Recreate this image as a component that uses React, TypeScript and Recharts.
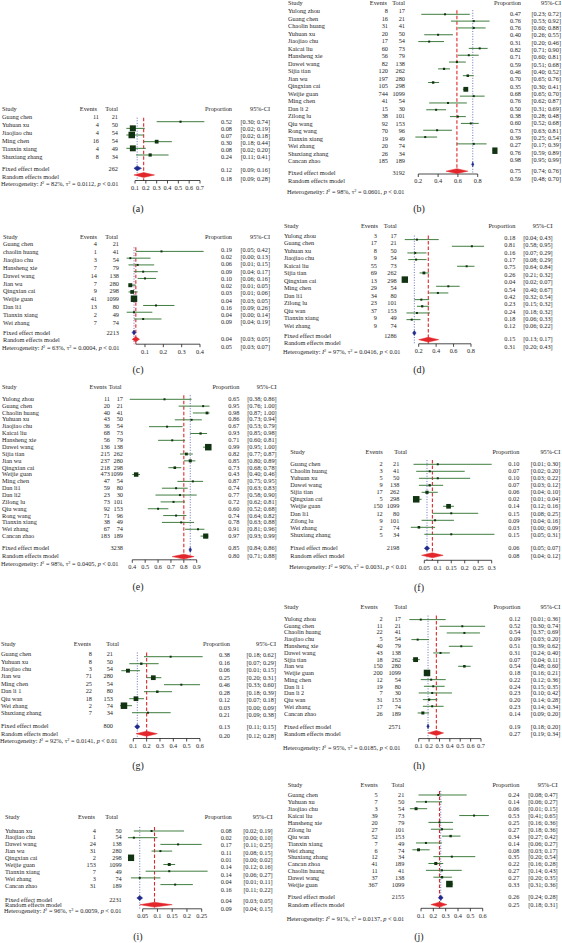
import React from "react";
import {
  ScatterChart,
  Scatter,
  XAxis,
  YAxis,
  ErrorBar,
  ReferenceLine,
} from "recharts";

const FONT = '"Liberation Serif", "DejaVu Serif", serif';
const FS = 6.3;
const INK = "#1e1e1e";
const CI_GREEN = "#3f7d3f";
const BOX = "#113311";
const RED = "#e3262b";
const NAVY = "#1f2a8c";
const DOT_BLUE = "#5a62b8";
const PANEL_W = 281;

// ── (a) ────────────────────────────────────────────────────────────────
const aStudies = ["Guang chen", "Yuhuan xu", "Jiaojiao chu", "Ming chen", "Tianxin xiang", "Shuxiang zhang"];
const aEvents = [11, 4, 4, 16, 4, 8];
const aTotals = [21, 50, 54, 54, 49, 34];
const aProp = [0.52, 0.08, 0.07, 0.3, 0.08, 0.24];
const aLower = [0.3, 0.02, 0.02, 0.18, 0.02, 0.11];
const aUpper = [0.74, 0.19, 0.18, 0.44, 0.2, 0.41];
const aFixed = [0.12, 0.09, 0.16];
const aRandom = [0.18, 0.09, 0.28];
const aHet = ["82%", "0.0112"];
const aTicks = [0.1, 0.2, 0.3, 0.4, 0.5, 0.6, 0.7];

// ── (b) ────────────────────────────────────────────────────────────────
const bStudies = ["Yulong zhou", "Guang chen", "Chaolin huang", "Yuhuan xu", "Jiaojiao chu", "Kaicai liu", "Hansheng xie", "Dawei wang", "Sijia tian", "Jian wu", "Qingxian cai", "Weijie guan", "Ming chen", "Dan li 2", "Zilong lu", "Qiu wang", "Rong wang", "Tianxin xiang", "Wei zhang", "Shuxiang zhang", "Cancan zhao"];
const bEvents = [8, 16, 31, 20, 17, 60, 56, 82, 120, 197, 105, 744, 41, 15, 38, 92, 70, 19, 20, 26, 185];
const bTotals = [17, 21, 41, 50, 54, 73, 79, 138, 262, 280, 298, 1099, 54, 30, 101, 153, 96, 49, 74, 34, 189];
const bProp = [0.47, 0.76, 0.76, 0.4, 0.31, 0.82, 0.71, 0.59, 0.46, 0.7, 0.35, 0.68, 0.76, 0.5, 0.38, 0.6, 0.73, 0.39, 0.27, 0.76, 0.98];
const bLower = [0.23, 0.53, 0.6, 0.26, 0.2, 0.71, 0.6, 0.51, 0.4, 0.65, 0.3, 0.65, 0.62, 0.31, 0.28, 0.52, 0.63, 0.25, 0.17, 0.59, 0.95];
const bUpper = [0.72, 0.92, 0.88, 0.55, 0.46, 0.9, 0.81, 0.68, 0.52, 0.76, 0.41, 0.7, 0.87, 0.69, 0.48, 0.68, 0.81, 0.54, 0.39, 0.89, 0.99];
const bFixed = [0.75, 0.74, 0.76];
const bRandom = [0.59, 0.48, 0.7];
const bHet = ["98%", "0.0601"];
const bTicks = [0.2, 0.4, 0.6, 0.8];

// ── (c) ────────────────────────────────────────────────────────────────
const cStudies = ["Guang chen", "chaolin huang", "Jiaojiao chu", "Hansheng xie", "Dawei wang", "Jian wu", "Qingxian cai", "Weijie guan", "Dan li1", "Tianxin xiang", "Wei zhang"];
const cEvents = [4, 1, 3, 7, 14, 7, 9, 41, 13, 2, 7];
const cTotals = [21, 41, 54, 79, 138, 280, 298, 1099, 80, 49, 74];
const cProp = [0.19, 0.02, 0.06, 0.09, 0.1, 0.02, 0.03, 0.04, 0.16, 0.04, 0.09];
const cLower = [0.05, 0.0, 0.01, 0.04, 0.06, 0.01, 0.01, 0.03, 0.09, 0.0, 0.04];
const cUpper = [0.42, 0.13, 0.15, 0.17, 0.16, 0.05, 0.06, 0.05, 0.26, 0.14, 0.19];
const cFixed = [0.04, 0.03, 0.05];
const cRandom = [0.05, 0.03, 0.07];
const cHet = ["63%", "0.0004"];
const cTicks = [0.1, 0.2, 0.3, 0.4];

// ── (d) ────────────────────────────────────────────────────────────────
const dStudies = ["Yulong zhou", "Guang chen", "Yuhuan xu", "Jiaojiao chu", "Kaicai liu", "Sijia tian", "Qingxian cai", "Ming chen", "Dan li1", "Zilong lu", "Qiu wan", "Tianxin xiang", "Wei zhang"];
const dEvents = [3, 17, 8, 9, 55, 69, 13, 29, 34, 23, 37, 9, 9];
const dTotals = [17, 21, 50, 54, 73, 262, 298, 54, 80, 101, 153, 49, 74];
const dProp = [0.18, 0.81, 0.16, 0.17, 0.75, 0.26, 0.04, 0.54, 0.42, 0.23, 0.24, 0.18, 0.12];
const dLower = [0.04, 0.58, 0.07, 0.08, 0.64, 0.21, 0.02, 0.4, 0.32, 0.15, 0.18, 0.06, 0.06];
const dUpper = [0.43, 0.95, 0.29, 0.29, 0.84, 0.32, 0.07, 0.67, 0.54, 0.32, 0.32, 0.33, 0.22];
const dFixed = [0.15, 0.13, 0.17];
const dRandom = [0.31, 0.2, 0.43];
const dHet = ["97%", "0.0416"];
const dTicks = [0.2, 0.4, 0.6, 0.8];

// ── (e) ────────────────────────────────────────────────────────────────
const eStudies = ["Yulong zhou", "Guang chen", "Chaolin huang", "Yuhuan xu", "Jiaojiao chu", "Kaicai liu", "Hansheng xie", "Dawei wang", "Sijia tian", "Jian wu", "Qingxian cai", "Weijie guan", "Ming chen", "Dan li1", "Dan li2", "Zilong lu", "Qiu wang", "Rong wang", "Tianxin xiang", "Wei zhang", "Cancan zhao"];
const eEvents = [11, 20, 40, 43, 36, 68, 56, 136, 215, 237, 218, 473, 47, 59, 23, 73, 92, 71, 38, 67, 183];
const eTotals = [17, 21, 41, 50, 54, 73, 79, 138, 262, 280, 298, 1099, 54, 80, 30, 101, 153, 96, 49, 74, 189];
const eProp = [0.65, 0.95, 0.98, 0.86, 0.67, 0.93, 0.71, 0.99, 0.82, 0.85, 0.73, 0.43, 0.87, 0.74, 0.77, 0.72, 0.6, 0.74, 0.78, 0.91, 0.97];
const eLower = [0.38, 0.76, 0.87, 0.73, 0.53, 0.85, 0.6, 0.95, 0.77, 0.8, 0.68, 0.4, 0.75, 0.63, 0.58, 0.62, 0.52, 0.64, 0.63, 0.81, 0.93];
const eUpper = [0.86, 1.0, 1.0, 0.94, 0.79, 0.98, 0.81, 1.0, 0.87, 0.89, 0.78, 0.46, 0.95, 0.83, 0.9, 0.81, 0.68, 0.82, 0.88, 0.96, 0.99];
const eFixed = [0.85, 0.84, 0.86];
const eRandom = [0.8, 0.71, 0.88];
const eHet = ["98%", "0.0405"];
const eTicks = [0.4, 0.5, 0.6, 0.7, 0.8, 0.9];

// ── (f) ────────────────────────────────────────────────────────────────
const fStudies = ["Guang chen", "Chaolin huang", "Yuhuan xu", "Dawei wang", "Sijia tian", "Qingxian cai", "Weijie guan", "Dan li1", "Zilong lu", "Wei zhang", "Shuxiang zhang"];
const fEvents = [2, 3, 5, 9, 17, 5, 150, 12, 9, 2, 5];
const fTotals = [21, 41, 50, 138, 262, 298, 1099, 80, 101, 74, 34];
const fProp = [0.1, 0.07, 0.1, 0.07, 0.06, 0.02, 0.14, 0.15, 0.09, 0.03, 0.15];
const fLower = [0.01, 0.02, 0.03, 0.03, 0.04, 0.01, 0.12, 0.08, 0.04, 0.0, 0.05];
const fUpper = [0.3, 0.2, 0.22, 0.12, 0.1, 0.04, 0.16, 0.25, 0.16, 0.09, 0.31];
const fFixed = [0.06, 0.05, 0.07];
const fRandom = [0.08, 0.04, 0.12];
const fHet = ["90%", "0.0031"];
const fTicks = [0.05, 0.1, 0.15, 0.2, 0.25, 0.3];

// ── (g) ────────────────────────────────────────────────────────────────
const gStudies = ["Guang chen", "Yuhuan xu", "Jiaojiao chu", "Jian wu", "Ming chen", "Dan li 1", "Qiu wan", "Wei zhang", "Shuxiang zhang"];
const gEvents = [8, 8, 3, 71, 25, 22, 18, 2, 7];
const gTotals = [21, 50, 54, 280, 54, 80, 153, 74, 34];
const gProp = [0.38, 0.16, 0.06, 0.25, 0.46, 0.28, 0.12, 0.03, 0.21];
const gLower = [0.18, 0.07, 0.01, 0.2, 0.33, 0.18, 0.07, 0.0, 0.09];
const gUpper = [0.62, 0.29, 0.15, 0.31, 0.6, 0.39, 0.18, 0.09, 0.38];
const gFixed = [0.13, 0.11, 0.15];
const gRandom = [0.2, 0.12, 0.28];
const gHet = ["92%", "0.0141"];
const gTicks = [0.1, 0.2, 0.3, 0.4, 0.5, 0.6];

// ── (h) ────────────────────────────────────────────────────────────────
const hStudies = ["Yulong zhou", "Guang chen", "Chaolin huang", "Jiaojiao chu", "Hansheng xie", "Dawei wang", "Sijia tian", "Jian wu", "Weijie guan", "Ming chen", "Dan li 1", "Dan li 2", "Qiu wan", "Wei zhang", "Cancan zhao"];
const hEvents = [2, 11, 22, 5, 40, 43, 18, 150, 200, 12, 19, 7, 31, 17, 26];
const hTotals = [17, 21, 41, 54, 79, 138, 262, 280, 1099, 54, 80, 30, 153, 74, 189];
const hProp = [0.12, 0.52, 0.54, 0.09, 0.51, 0.31, 0.07, 0.54, 0.18, 0.22, 0.24, 0.23, 0.2, 0.23, 0.14];
const hLower = [0.01, 0.3, 0.37, 0.03, 0.39, 0.24, 0.04, 0.48, 0.16, 0.12, 0.15, 0.1, 0.14, 0.14, 0.09];
const hUpper = [0.36, 0.74, 0.69, 0.2, 0.62, 0.4, 0.11, 0.6, 0.21, 0.36, 0.35, 0.42, 0.28, 0.34, 0.2];
const hFixed = [0.19, 0.18, 0.2];
const hRandom = [0.27, 0.19, 0.34];
const hHet = ["95%", "0.0185"];
const hTicks = [0.1, 0.2, 0.3, 0.4, 0.5, 0.6, 0.7];

// ── (i) ────────────────────────────────────────────────────────────────
const iStudies = ["Yuhuan xu", "Jiaojiao chu", "Dawei wang", "Jian wu", "Qingxian cai", "Weijie guan", "Tianxin xiang", "Wei zhang", "Cancan zhao"];
const iEvents = [4, 1, 24, 31, 2, 153, 7, 3, 31];
const iTotals = [50, 54, 138, 280, 298, 1099, 49, 74, 189];
const iProp = [0.08, 0.02, 0.17, 0.11, 0.01, 0.14, 0.14, 0.04, 0.16];
const iLower = [0.02, 0.0, 0.11, 0.08, 0.0, 0.12, 0.06, 0.01, 0.11];
const iUpper = [0.19, 0.1, 0.25, 0.15, 0.02, 0.16, 0.27, 0.11, 0.22];
const iFixed = [0.04, 0.03, 0.05];
const iRandom = [0.09, 0.04, 0.15];
const iHet = ["96%", "0.0059"];
const iTicks = [0.05, 0.1, 0.15, 0.2, 0.25];

// ── (j) ────────────────────────────────────────────────────────────────
const jStudies = ["Guang chen", "Yuhuan xu", "Jiaojiao chu", "Kaicai liu", "Hansheng xie", "Zilong lu", "Qiu wan", "Tianxin xiang", "Wei zhang", "Shuxiang zhang", "Cancan zhoa", "Chaolin huang", "Dawei wang", "Weijie guan"];
const jEvents = [5, 7, 3, 39, 20, 27, 52, 7, 6, 12, 41, 11, 37, 367];
const jTotals = [21, 50, 54, 73, 79, 101, 153, 49, 74, 34, 189, 41, 138, 1099];
const jProp = [0.24, 0.14, 0.06, 0.53, 0.25, 0.27, 0.34, 0.14, 0.08, 0.35, 0.22, 0.27, 0.27, 0.33];
const jLower = [0.08, 0.06, 0.01, 0.41, 0.16, 0.18, 0.27, 0.06, 0.03, 0.2, 0.16, 0.14, 0.2, 0.31];
const jUpper = [0.47, 0.27, 0.15, 0.65, 0.36, 0.36, 0.42, 0.27, 0.17, 0.54, 0.28, 0.43, 0.35, 0.36];
const jFixed = [0.26, 0.24, 0.28];
const jRandom = [0.25, 0.18, 0.31];
const jHet = ["91%", "0.0137"];
const jTicks = [0.1, 0.2, 0.3, 0.4, 0.5, 0.6];

// ── layout (page pixels) ───────────────────────────────────────────────
// scale: [v1, px1, v2, px2] reference ticks; left/right: [first row y, row step, fixed y, random y]
// plot: [first mark y, row step]; cols: study, events, total, proportion, CI; hcols: header events/total
const LAY_A = { x0: 0, head: 109, scale: [0.1, 135, 0.7, 200], domain: [0, 0.8], axis: [0.1, 0.7], left: [116.7, 8, 168.5, 176.5], right: [121.7, 7, 170, 178.3], plot: [121.7, 6.66], axisY: 180.5, hetY: 183.5, labelY: 209, cols: [2, 99, 118, 232, 270], hcols: [97, 118] };
const LAY_B = { x0: 281, head: 3, scale: [0.2, 137.3, 0.8, 196.7], domain: [0.1, 1.0], axis: [0.2, 0.8], left: [11, 7.5, 172.3, 181], right: [13.3, 7.33, 170.7, 179], plot: [14.3, 6.82], axisY: 174, hetY: 191.7, labelY: 209, cols: [7, 107, 124, 240, 280], hcols: [106, 124] };
const LAY_C = { x0: 0, head: 237.3, scale: [0.1, 145, 0.4, 200], domain: [0, 0.45], axis: [0.05, 0.4], left: [244, 7.93, 333.3, 340], right: [250, 7.23, 339, 347.3], plot: [251.7, 6.76], axisY: 344.5, hetY: 347.3, labelY: 370, cols: [3, 97, 119, 232, 270], hcols: [97, 118] };
const LAY_D = { x0: 281, head: 225.7, scale: [0.2, 137.7, 0.8, 190], domain: [0, 1.0], axis: [0.2, 0.8], left: [235, 7.5, 335, 342.3], right: [237.3, 7.39, 338.3, 346.7], plot: [239.3, 6.67], axisY: 343.5, hetY: 351, labelY: 370, cols: [3, 96, 115.7, 234.3, 271.7], hcols: [97, 115.7] };
const LAY_E = { x0: 0, head: 386.7, scale: [0.4, 132.3, 0.9, 196.7], domain: [0.35, 1.02], axis: [0.4, 0.9], left: [398.3, 6.87, 547.7, 555], right: [398.3, 6.87, 547.7, 555], plot: [399, 6.84], axisY: 559.5, hetY: 563.3, labelY: 586.7, cols: [2, 110, 123, 239.3, 276.7], hcols: [106.7, 121.5] };
const LAY_F = { x0: 281, head: 451.7, scale: [0.05, 143.3, 0.3, 210.7], domain: [0, 0.32], axis: [0.05, 0.3], left: [463.3, 7.1, 547.3, 555.7], right: [463.3, 7.1, 547.3, 555.7], plot: [464, 7.0], axisY: 560, hetY: 566, labelY: 588.3, cols: [9.3, 101.7, 118.3, 238.3, 279.3], hcols: [101.7, 126], randomLabel: "Random effect model" };
const LAY_G = { x0: 0, head: 644, scale: [0.1, 133.3, 0.6, 200], domain: [0, 0.65], axis: [0.1, 0.6], left: [654, 7.41, 726, 733.3], right: [655, 7.5, 726.7, 736], plot: [656.7, 7.0], axisY: 738.5, hetY: 740, labelY: 766, cols: [1, 92, 113, 230, 276], hcols: [91, 119] };
const LAY_H = { x0: 281, head: 606.7, scale: [0.1, 137.7, 0.7, 200], domain: [0, 0.8], axis: [0.1, 0.7], left: [618.3, 6.79, 726.7, 734], right: [618.3, 6.79, 726.7, 734], plot: [619.3, 6.67], axisY: 738.3, hetY: 747.3, labelY: 766, cols: [3, 101.7, 120, 239.3, 279.3], hcols: [96.7, 126] };
const LAY_I = { x0: 0, head: 816.7, scale: [0.05, 142.7, 0.25, 201.7], domain: [0, 0.28], axis: [0.05, 0.25], left: [830, 6.96, 899, 904.3], right: [830, 7.375, 900, 908.3], plot: [830.7, 6.7], axisY: 908.5, hetY: 910, labelY: 936.7, cols: [5, 96, 121.7, 231.7, 272.7], hcols: [95, 118] };
const LAY_J = { x0: 281, head: 785, scale: [0.1, 140, 0.6, 201.7], domain: [0, 0.7], axis: [0.1, 0.6], left: [795, 6.92, 896.7, 905], right: [795, 6.92, 896.7, 905], plot: [795, 6.85], axisY: 908.3, hetY: 918.3, labelY: 936.7, cols: [6.7, 96.7, 123.3, 238.3, 276.7], hcols: [96.7, 123.3] };

const PANELS = [
  { label: "(a)", studies: aStudies, events: aEvents, totals: aTotals, prop: aProp, lower: aLower, upper: aUpper, fixed: aFixed, random: aRandom, het: aHet, ticks: aTicks, lay: LAY_A },
  { label: "(b)", studies: bStudies, events: bEvents, totals: bTotals, prop: bProp, lower: bLower, upper: bUpper, fixed: bFixed, random: bRandom, het: bHet, ticks: bTicks, lay: LAY_B },
  { label: "(c)", studies: cStudies, events: cEvents, totals: cTotals, prop: cProp, lower: cLower, upper: cUpper, fixed: cFixed, random: cRandom, het: cHet, ticks: cTicks, lay: LAY_C },
  { label: "(d)", studies: dStudies, events: dEvents, totals: dTotals, prop: dProp, lower: dLower, upper: dUpper, fixed: dFixed, random: dRandom, het: dHet, ticks: dTicks, lay: LAY_D },
  { label: "(e)", studies: eStudies, events: eEvents, totals: eTotals, prop: eProp, lower: eLower, upper: eUpper, fixed: eFixed, random: eRandom, het: eHet, ticks: eTicks, lay: LAY_E },
  { label: "(f)", studies: fStudies, events: fEvents, totals: fTotals, prop: fProp, lower: fLower, upper: fUpper, fixed: fFixed, random: fRandom, het: fHet, ticks: fTicks, lay: LAY_F },
  { label: "(g)", studies: gStudies, events: gEvents, totals: gTotals, prop: gProp, lower: gLower, upper: gUpper, fixed: gFixed, random: gRandom, het: gHet, ticks: gTicks, lay: LAY_G },
  { label: "(h)", studies: hStudies, events: hEvents, totals: hTotals, prop: hProp, lower: hLower, upper: hUpper, fixed: hFixed, random: hRandom, het: hHet, ticks: hTicks, lay: LAY_H },
  { label: "(i)", studies: iStudies, events: iEvents, totals: iTotals, prop: iProp, lower: iLower, upper: iUpper, fixed: iFixed, random: iRandom, het: iHet, ticks: iTicks, lay: LAY_I },
  { label: "(j)", studies: jStudies, events: jEvents, totals: jTotals, prop: jProp, lower: jLower, upper: jUpper, fixed: jFixed, random: jRandom, het: jHet, ticks: jTicks, lay: LAY_J },
];

// ── marks ──────────────────────────────────────────────────────────────

function Square(props: any) {
  const { cx, cy, payload } = props;
  if (cx == null || cy == null) return <g />;
  const s = payload.side;
  return <rect x={cx - s / 2} y={cy - s / 2} width={s} height={s} fill={BOX} />;
}

function NoDot() {
  return <g />;
}

// Scatter "line" renderer that fills the polygon through the diamond's points
const diamondPath = (color: string) => (props: any) => {
  const pts = (props.points || []).filter((q: any) => q.x != null && q.y != null);
  if (!pts.length) return <g />;
  const d = "M" + pts.map((q: any) => `${q.x},${q.y}`).join("L") + "Z";
  return <path d={d} fill={color} stroke={color} strokeWidth={0.5} />;
};

const ci = (lo: number, hi: number) => `[${lo.toFixed(2)}; ${hi.toFixed(2)}]`;

function Sq2({ children }: { children: React.ReactNode }) {
  return <span style={{ fontSize: "0.7em", verticalAlign: "0.5em", lineHeight: 0 }}>{children}</span>;
}

// ── one forest plot ────────────────────────────────────────────────────

function ForestPanel({ label, studies, events, totals, prop, lower, upper, fixed, random, het, ticks, lay }: any) {
  const n = studies.length;
  const [v1, p1, v2, p2] = lay.scale;
  const k = (p2 - p1) / (v2 - v1);
  const plotLeft = p1 - (v1 - lay.domain[0]) * k;
  const plotRight = p1 + (lay.domain[1] - v1) * k;
  const top = lay.head - 6;
  const bottom = lay.axisY;
  const axisH = 14;
  const height = bottom - top + axisH;

  const toRow = (px: number, first: number, step: number) => 1 + (px - first) / step;
  const rowDomain = (first: number, step: number) => [toRow(top, first, step), toRow(bottom, first, step)];

  const [lf, ls, lfx, lrx] = lay.left;
  const [rf, rs, rfx, rrx] = lay.right;
  const [pf, ps] = lay.plot;
  const leftDomain = rowDomain(lf, ls);
  const rightDomain = rowDomain(rf, rs);
  const plotDomain = rowDomain(pf, ps);
  const rows = studies.map((_: string, i: number) => i + 1);
  const leftTicks = [toRow(lay.head, lf, ls), ...rows, toRow(lfx, lf, ls), toRow(lrx, lf, ls)];
  const rightTicks = [toRow(lay.head, rf, rs), ...rows, toRow(rfx, rf, rs), toRow(rrx, rf, rs)];
  const totalN = totals.reduce((s: number, t: number) => s + t, 0);

  // study weights (inverse variance) set the square sizes
  const w = totals.map((t: number, i: number) => {
    const p = Math.min(Math.max(events[i] / t, 0.5 / t), 1 - 0.5 / t);
    return t / (p * (1 - p));
  });
  const wMax = Math.max(...w);
  const studyPts = prop.map((p: number, i: number) => ({
    x: p,
    y: i + 1,
    err: [p - lower[i], upper[i] - p],
    side: Math.max(2, 6.5 * Math.sqrt(w[i] / wMax)),
  }));
  const diamond = (est: number[], row: number) => [
    { x: est[1], y: row },
    { x: est[0], y: row - 0.36 },
    { x: est[2], y: row },
    { x: est[0], y: row + 0.36 },
  ];
  const fixedRow = n + 2;
  const randomRow = n + 3;

  const pick = (list: number[], p: any) => {
    const v = p.payload ? p.payload.value : NaN;
    const j = list.findIndex((t) => Math.abs(t - v) < 1e-6);
    return j >= 0 ? j : p.index;
  };
  const txt = (t: string, x: number, y: number, anchor: string, key: number) => (
    <text key={key} x={x} y={y} dy="0.35em" textAnchor={anchor} fontSize={FS} fontFamily={FONT} fill={INK}>
      {t}
    </text>
  );
  const [cS, cE, cT, cP, cC] = lay.cols;
  const [hE, hT] = lay.hcols;

  const leftTick = (p: any) => {
    const i = pick(leftTicks, p);
    const y = p.y;
    let cells: [string, number, string][];
    if (i === 0) cells = [["Study", cS, "start"], ["Events", hE, "end"], ["Total", hT, "end"]];
    else if (i <= n) cells = [[studies[i - 1], cS, "start"], [String(events[i - 1]), cE, "end"], [String(totals[i - 1]), cT, "end"]];
    else if (i === n + 1) cells = [["Fixed effect model", cS, "start"], [String(totalN), cT, "end"]];
    else cells = [[lay.randomLabel || "Random effects model", cS, "start"]];
    return <g>{cells.map((c, j) => txt(c[0], c[1], y, c[2], j))}</g>;
  };

  const rightTick = (p: any) => {
    const i = pick(rightTicks, p);
    const y = p.y;
    let a: string;
    let b: string;
    if (i === 0) {
      a = "Proportion";
      b = "95%-CI";
    } else if (i <= n) {
      a = prop[i - 1].toFixed(2);
      b = ci(lower[i - 1], upper[i - 1]);
    } else {
      const est = i === n + 1 ? fixed : random;
      a = est[0].toFixed(2);
      b = ci(est[1], est[2]);
    }
    return <g>{txt(a, cP, y, "end", 0)}{txt(b, cC, y, "end", 1)}</g>;
  };

  return (
    <>
      <div style={{ position: "absolute", left: lay.x0, top }}>
        <ScatterChart width={PANEL_W} height={height} margin={{ top: 0, right: 0, bottom: 0, left: 0 }}>
          <XAxis
            type="number"
            dataKey="x"
            domain={lay.domain}
            allowDataOverflow
            ticks={ticks}
            interval={0}
            axisLine={false}
            tickSize={3}
            tickLine={{ stroke: INK, strokeWidth: 0.8 }}
            tick={{ fontSize: FS, fontFamily: FONT, fill: INK }}
            height={axisH}
          />
          <YAxis
            yAxisId="txt"
            type="number"
            orientation="left"
            width={plotLeft}
            domain={leftDomain}
            allowDataOverflow
            reversed
            ticks={leftTicks}
            interval={0}
            tick={leftTick}
            tickLine={false}
            axisLine={false}
          />
          <YAxis yAxisId="plt" type="number" dataKey="y" hide domain={plotDomain} allowDataOverflow reversed />
          <YAxis
            yAxisId="txtR"
            type="number"
            orientation="right"
            width={PANEL_W - plotRight}
            domain={rightDomain}
            allowDataOverflow
            reversed
            ticks={rightTicks}
            interval={0}
            tick={rightTick}
            tickLine={false}
            axisLine={false}
          />
          <ReferenceLine
            yAxisId="plt"
            segment={[{ x: fixed[0], y: 0.4 }, { x: fixed[0], y: plotDomain[1] }]}
            stroke={DOT_BLUE}
            strokeWidth={0.9}
            strokeDasharray="1 1.6"
          />
          <ReferenceLine
            yAxisId="plt"
            segment={[{ x: random[0], y: 0.4 }, { x: random[0], y: plotDomain[1] }]}
            stroke={RED}
            strokeWidth={1.1}
            strokeDasharray="3.5 2"
          />
          <ReferenceLine
            yAxisId="plt"
            segment={[{ x: lay.axis[0], y: plotDomain[1] }, { x: lay.axis[1], y: plotDomain[1] }]}
            stroke={INK}
            strokeWidth={0.8}
          />
          <Scatter yAxisId="plt" data={studyPts} shape={Square} isAnimationActive={false}>
            <ErrorBar dataKey="err" direction="x" width={0} stroke={CI_GREEN} strokeWidth={1} />
          </Scatter>
          <Scatter
            yAxisId="plt"
            data={diamond(fixed, fixedRow)}
            shape={NoDot}
            line={diamondPath(NAVY)}
            lineType="joint"
            isAnimationActive={false}
          />
          <Scatter
            yAxisId="plt"
            data={diamond(random, randomRow)}
            shape={NoDot}
            line={diamondPath(RED)}
            lineType="joint"
            isAnimationActive={false}
          />
        </ScatterChart>
      </div>
      <div
        style={{
          position: "absolute",
          left: lay.x0 + cS - 1,
          top: lay.hetY - 4.5,
          fontSize: FS,
          lineHeight: "9px",
          fontFamily: FONT,
          color: INK,
          whiteSpace: "nowrap",
        }}
      >
        Heterogeneity: <i>I</i>
        <Sq2>2</Sq2> = {het[0]}, τ<Sq2>2</Sq2> = {het[1]}, <i>p</i> &lt; 0.01
      </div>
      <div
        style={{
          position: "absolute",
          left: lay.x0 + 118,
          width: 40,
          textAlign: "center",
          top: lay.labelY - 7,
          fontSize: 10,
          lineHeight: "14px",
          fontFamily: FONT,
          color: INK,
        }}
      >
        {label}
      </div>
    </>
  );
}

export default function App() {
  return (
    <div
      style={{
        position: "absolute",
        left: 0,
        top: 0,
        width: 562,
        height: 943,
        background: "#ffffff",
        overflow: "hidden",
      }}
    >
      {PANELS.map((p) => (
        <ForestPanel key={p.label} {...p} />
      ))}
    </div>
  );
}
